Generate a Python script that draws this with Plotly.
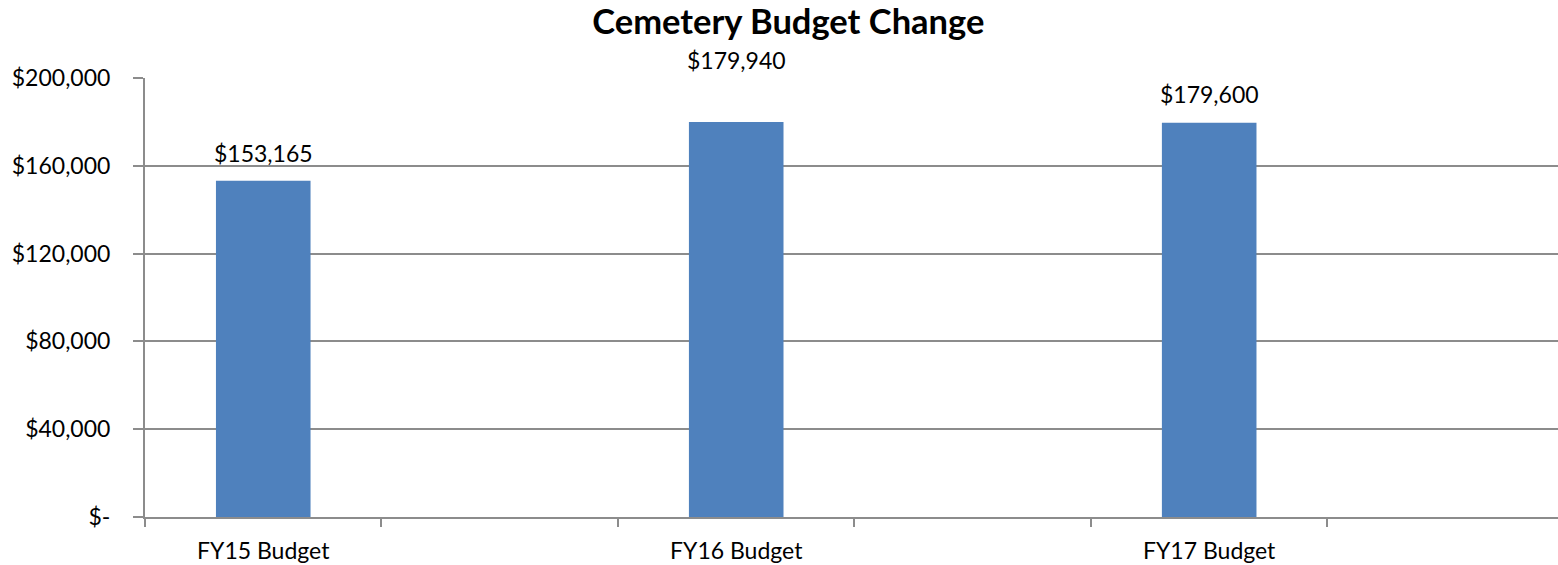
import plotly.graph_objects as go

# Budget figures by fiscal year
categories = ["FY15 Budget", "FY16 Budget", "FY17 Budget"]
budget = [153165, 179940, 179600]

# y-axis ticks
y_tickvals = [0, 40000, 80000, 120000, 160000, 200000]
y_ticktext = ["$-", "$40,000", "$80,000", "$120,000", "$160,000", "$200,000"]

# each category occupies every other slot, leaving an empty slot after it
slot = [2 * i for i in range(len(categories))]
n_slots = 2 * len(categories)

FONT = "Lato"
GRID = "#8c8c8c"

fig = go.Figure(
    go.Bar(
        x=slot,
        y=budget,
        width=0.4,
        marker=dict(color="#4F81BD", line=dict(width=0)),
        hovertemplate="%{customdata}: $%{y:,}<extra></extra>",
        customdata=categories,
    )
)

# value labels above the bars
label_lift = [28, 62, 29]
for xv, v, lift in zip(slot, budget, label_lift):
    fig.add_annotation(
        x=xv, y=v, text=f"${v:,}", showarrow=False,
        yanchor="middle", yshift=lift,
        font=dict(family=FONT, size=23, color="#000000"),
    )

fig.update_layout(
    width=1558, height=565,
    margin=dict(l=145, r=0, t=78, b=48),
    paper_bgcolor="white", plot_bgcolor="white",
    showlegend=False,
    title=dict(
        text="<b>Cemetery Budget Change</b>",
        x=0.506, xanchor="center", xref="container",
        y=0.962, yanchor="middle", yref="container",
        font=dict(family=FONT, size=34.5, color="#000000"),
    ),
    xaxis=dict(
        range=[-0.5, n_slots - 0.525],
        tickmode="array", tickvals=slot, ticktext=categories,
        ticks="", showgrid=False, zeroline=False,
        showline=True, linecolor=GRID, linewidth=2,
        tickfont=dict(family=FONT, size=23, color="#000000"),
        ticklabelstandoff=12,
        minor=dict(
            tickmode="array",
            tickvals=[k - 0.5 for k in range(n_slots + 1)],
            ticks="outside", ticklen=8, tickwidth=2, tickcolor=GRID,
            showgrid=False,
        ),
        fixedrange=True,
    ),
    yaxis=dict(
        range=[0, 200000],
        tickmode="array", tickvals=y_tickvals, ticktext=y_ticktext,
        ticks="outside", ticklen=10, tickwidth=2, tickcolor=GRID,
        showgrid=True, gridcolor=GRID, gridwidth=1.5,
        zeroline=False,
        showline=True, linecolor=GRID, linewidth=2,
        tickfont=dict(family=FONT, size=23, color="#000000"),
        ticklabelstandoff=18,
        fixedrange=True,
    ),
)

fig.write_html("out.html")
